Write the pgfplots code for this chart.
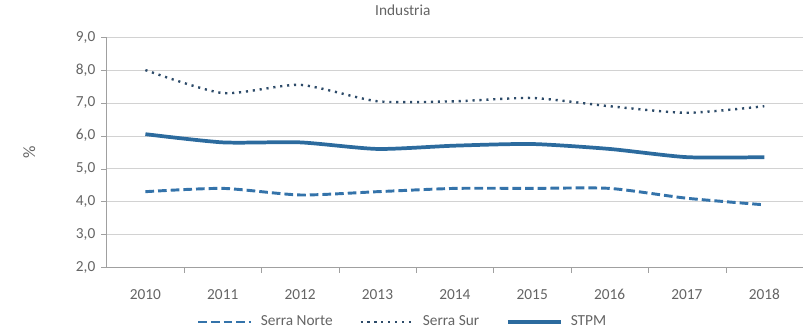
\documentclass[border=0pt]{standalone}
\usepackage{pgfplots}
\pgfplotsset{compat=1.18}
\usepackage{fontspec}
\setmainfont{Carlito}
\definecolor{lineblue}{RGB}{44,107,158}
\definecolor{dashblue}{RGB}{52,115,170}
\definecolor{dotblue}{RGB}{45,75,105}
\definecolor{axgray}{RGB}{160,160,160}
\definecolor{gridgray}{RGB}{210,210,210}
\definecolor{txtgray}{RGB}{100,100,100}
\begin{document}
\begin{tikzpicture}[font=\fontsize{11.5}{13}\selectfont]
\begin{axis}[
  scale only axis,
  width=522pt, height=172.5pt,
  xmin=-0.5, xmax=8.5,
  ymin=2, ymax=9,
  ytick={2,3,...,9},
  xtick={0,...,8},
  xticklabels={2010,2011,2012,2013,2014,2015,2016,2017,2018},
  minor xtick={0.5,1.5,...,7.5},
  major x tick style={draw=none},
  minor x tick style={axgray},
  minor tick length=4pt,
  major tick length=4pt,
  ytick style={axgray},
  tick align=outside,
  axis x line*=bottom,
  axis y line*=left,
  axis line style={axgray, -},
  ymajorgrids,
  major grid style={gridgray},
  tick label style={txtgray},
  /pgf/number format/.cd, fixed, fixed zerofill, precision=1, use comma,
  /pgf/number format/assume math mode=true,
  /pgfplots/.cd,
  xticklabel style={anchor=center, yshift=-16.5pt},
  yticklabel style={xshift=-1pt},
  ylabel={\%},
  ylabel style={txtgray, font=\fontsize{13}{14}\selectfont, at={(-58pt,0.5)}, anchor=center, rotate=0},
  title={Industria},
  title style={txtgray, at={(222pt,187pt)}, anchor=center},
  legend style={at={(222pt,-41pt)}, anchor=center, draw=none, fill=none,
    legend columns=3,
    /tikz/every odd column/.append style={column sep=4pt},
    /tikz/every even column/.append style={column sep=18pt},
    text=txtgray, font=\fontsize{11.5}{13}\selectfont},
  legend image code/.code={\draw[#1] (0cm,0cm) -- (1.4cm,0cm);},
]
\addplot[dashblue, line width=2.2pt, dash pattern=on 6.5pt off 3pt, smooth, tension=0.4]
  coordinates {(0,4.30) (1,4.40) (2,4.20) (3,4.30) (4,4.40) (5,4.40) (6,4.40) (7,4.10) (8,3.90)};
\addlegendentry{Serra Norte}
\addplot[dotblue, line width=1.8pt, dash pattern=on 1.6pt off 3.6pt, smooth, tension=0.4]
  coordinates {(0,8.00) (1,7.30) (2,7.55) (3,7.05) (4,7.05) (5,7.15) (6,6.90) (7,6.70) (8,6.90)};
\addlegendentry{Serra Sur}
\addplot[lineblue, line width=2.8pt, smooth, tension=0.4]
  coordinates {(0,6.05) (1,5.80) (2,5.80) (3,5.60) (4,5.70) (5,5.75) (6,5.60) (7,5.35) (8,5.35)};
\addlegendentry{STPM}
\end{axis}
\path (current axis.south west) ++(-80pt,-48.75pt) coordinate (bbsw);
\path (current axis.north east) ++(4.5pt,24.75pt) coordinate (bbne);
\path[use as bounding box] (bbsw) rectangle (bbne);
\end{tikzpicture}
\end{document}
